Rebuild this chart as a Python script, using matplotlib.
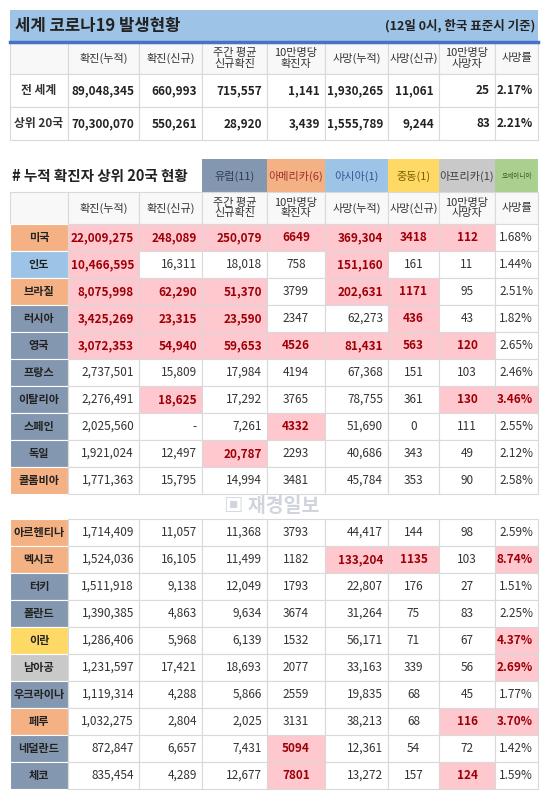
import matplotlib
matplotlib.use("Agg")
import matplotlib.pyplot as plt
from matplotlib.patches import Rectangle

plt.rcParams['font.family'] = ['Noto Sans CJK KR', 'DejaVu Sans']

headers = ["확진(누적)", "확진(신규)", "주간 평균\n신규확진", "10만명당\n확진자", "사망(누적)", "사망(신규)", "10만명당\n사망자", "사망률"]
summary_labels = ["전 세계", "상위 20국"]
summary_values = [
    ["89,048,345", "660,993", "715,557", "1,141", "1,930,265", "11,061", "25", "2.17%"],
    ["70,300,070", "550,261", "28,920", "3,439", "1,555,789", "9,244", "83", "2.21%"],
]
legend_regions = ["유럽(11)", "아메리카(6)", "아시아(1)", "중동(1)", "아프리카(1)", "오세아니아"]
countries = ["미국", "인도", "브라질", "러시아", "영국", "프랑스", "이탈리아", "스페인", "독일", "콜롬비아",
             "아르헨티나", "멕시코", "터키", "폴란드", "이란", "남아공", "우크라이나", "페루", "네덜란드", "체코"]
regions = ["아메리카", "아시아", "아메리카", "유럽", "유럽", "유럽", "유럽", "유럽", "유럽", "아메리카",
           "아메리카", "아메리카", "유럽", "유럽", "중동", "아프리카", "유럽", "아메리카", "유럽", "유럽"]
values = [
    ["22,009,275", "248,089", "250,079", "6649", "369,304", "3418", "112", "1.68%"],
    ["10,466,595", "16,311", "18,018", "758", "151,160", "161", "11", "1.44%"],
    ["8,075,998", "62,290", "51,370", "3799", "202,631", "1171", "95", "2.51%"],
    ["3,425,269", "23,315", "23,590", "2347", "62,273", "436", "43", "1.82%"],
    ["3,072,353", "54,940", "59,653", "4526", "81,431", "563", "120", "2.65%"],
    ["2,737,501", "15,809", "17,984", "4194", "67,368", "151", "103", "2.46%"],
    ["2,276,491", "18,625", "17,292", "3765", "78,755", "361", "130", "3.46%"],
    ["2,025,560", "-", "7,261", "4332", "51,690", "0", "111", "2.55%"],
    ["1,921,024", "12,497", "20,787", "2293", "40,686", "343", "49", "2.12%"],
    ["1,771,363", "15,795", "14,994", "3481", "45,784", "353", "90", "2.58%"],
    ["1,714,409", "11,057", "11,368", "3793", "44,417", "144", "98", "2.59%"],
    ["1,524,036", "16,105", "11,499", "1182", "133,204", "1135", "103", "8.74%"],
    ["1,511,918", "9,138", "12,049", "1793", "22,807", "176", "27", "1.51%"],
    ["1,390,385", "4,863", "9,634", "3674", "31,264", "75", "83", "2.25%"],
    ["1,286,406", "5,968", "6,139", "1532", "56,171", "71", "67", "4.37%"],
    ["1,231,597", "17,421", "18,693", "2077", "33,163", "339", "56", "2.69%"],
    ["1,119,314", "4,288", "5,866", "2559", "19,835", "68", "45", "1.77%"],
    ["1,032,275", "2,804", "2,025", "3131", "38,213", "68", "116", "3.70%"],
    ["872,847", "6,657", "7,431", "5094", "12,361", "54", "72", "1.42%"],
    ["835,454", "4,289", "12,677", "7801", "13,272", "157", "124", "1.59%"],
]
highlights = [
    [0, 1, 2, 3, 4, 5, 6], [0, 4], [0, 1, 2, 4, 5], [0, 1, 2, 5], [0, 1, 2, 3, 4, 5, 6],
    [], [1, 6, 7], [3], [2], [],
    [], [4, 5, 7], [], [], [7], [7], [], [6, 7], [3], [3, 6],
]

region_colors = {"유럽": "#8497B0", "아메리카": "#F4B183", "아시아": "#9DC3E6",
                 "중동": "#FFD966", "아프리카": "#C9C9C9", "오세아니아": "#A9D08E"}
legend_colors = ["#8497B0", "#F4B183", "#9DC3E6", "#FFD966", "#C9C9C9", "#A9D08E"]
legend_text = ["#2F3D55", "#A0302D", "#2F5597", "#7F6000", "#404040", "#375623"]

W, H = 548, 799
fig = plt.figure(figsize=(W / 100, H / 100), dpi=100)
ax = fig.add_axes([0, 0, 1, 1])
ax.set_xlim(0, W)
ax.set_ylim(H, 0)
ax.axis("off")

cols = [10, 68, 139, 202, 267, 325, 388, 439, 495, 538]
grid = "#D9D9D9"
hl_bg, hl_fg = "#FFC7CE", "#9C0006"
centered = {3, 5, 6}

def rect(x0, y0, x1, y1, fc, ec=grid, lw=0.8):
    ax.add_patch(Rectangle((x0, y0), x1 - x0, y1 - y0, facecolor=fc, edgecolor=ec, linewidth=lw))

def header_row(y0, y1, bg):
    for c in range(9):
        rect(cols[c], y0, cols[c + 1], y1, bg)
    for i, h in enumerate(headers):
        ax.text((cols[i + 1] + cols[i + 2]) / 2, (y0 + y1) / 2, h, ha="center", va="center",
                fontsize=8, color="#333333", linespacing=1.05)

# Title
rect(10, 10, 538, 41, "#9DC3E6", ec="none")
ax.plot([10, 538], [42, 42], color="#4472C4", lw=2.5)
ax.text(15, 26, "세계 코로나19 발생현황", fontsize=12, fontweight="bold", va="center", color="#222222")
ax.text(535, 26, "(12일 0시, 한국 표준시 기준)", fontsize=9, fontweight="bold", va="center", ha="right", color="#222222")

header_row(43, 74, "#F8F8F8")
for r, (lab, vals) in enumerate(zip(summary_labels, summary_values)):
    y0 = 74 + r * 33
    y1 = y0 + 33
    rect(cols[0], y0, cols[1], y1, "white")
    ax.text((cols[0] + cols[1]) / 2, (y0 + y1) / 2, lab, ha="center", va="center", fontsize=8.5, fontweight="bold", color="#333333")
    for c, v in enumerate(vals):
        rect(cols[c + 1], y0, cols[c + 2], y1, "white")
        ax.text(cols[c + 2] - 5, (y0 + y1) / 2, v, ha="right", va="center", fontsize=8.5, fontweight="bold", color="#222222")

# Legend band
ax.text(12, 176, "# 누적 확진자 상위 20국 현황", fontsize=10.5, fontweight="bold", va="center", color="#222222")
for i, lab in enumerate(legend_regions):
    x0, x1 = cols[i + 3], cols[i + 4]
    rect(x0, 159, x1, 192, legend_colors[i], ec="none")
    ax.text((x0 + x1) / 2, 176, lab, ha="center", va="center",
            fontsize=4.8 if i == 5 else 8, color=legend_text[i])

header_row(192, 224, "#F8F8F8")

def country_row(k, y0, y1):
    rect(cols[0], y0, cols[1], y1, region_colors[regions[k]], ec="white")
    ax.text((cols[0] + cols[1]) / 2, (y0 + y1) / 2, countries[k], ha="center", va="center",
            fontsize=8, fontweight="bold", color="#222222")
    for c, v in enumerate(values[k]):
        hl = c in highlights[k]
        rect(cols[c + 1], y0, cols[c + 2], y1, hl_bg if hl else "white")
        if c in centered:
            x, ha = (cols[c + 1] + cols[c + 2]) / 2, "center"
        else:
            x, ha = cols[c + 2] - 5, "right"
        ax.text(x, (y0 + y1) / 2, v, ha=ha, va="center", fontsize=8.5,
                fontweight="bold" if hl else "normal", color=hl_fg if hl else "#333333")

for k in range(10):
    country_row(k, 224 + k * 27, 251 + k * 27)
for k in range(10, 20):
    country_row(k, 519 + (k - 10) * 27, 546 + (k - 10) * 27)

ax.text(272, 506, "▣ 재경일보", fontsize=14, fontweight="bold", ha="center", va="center", color="#B0B8C8", alpha=0.6)

fig.savefig("out.png", dpi=100)
